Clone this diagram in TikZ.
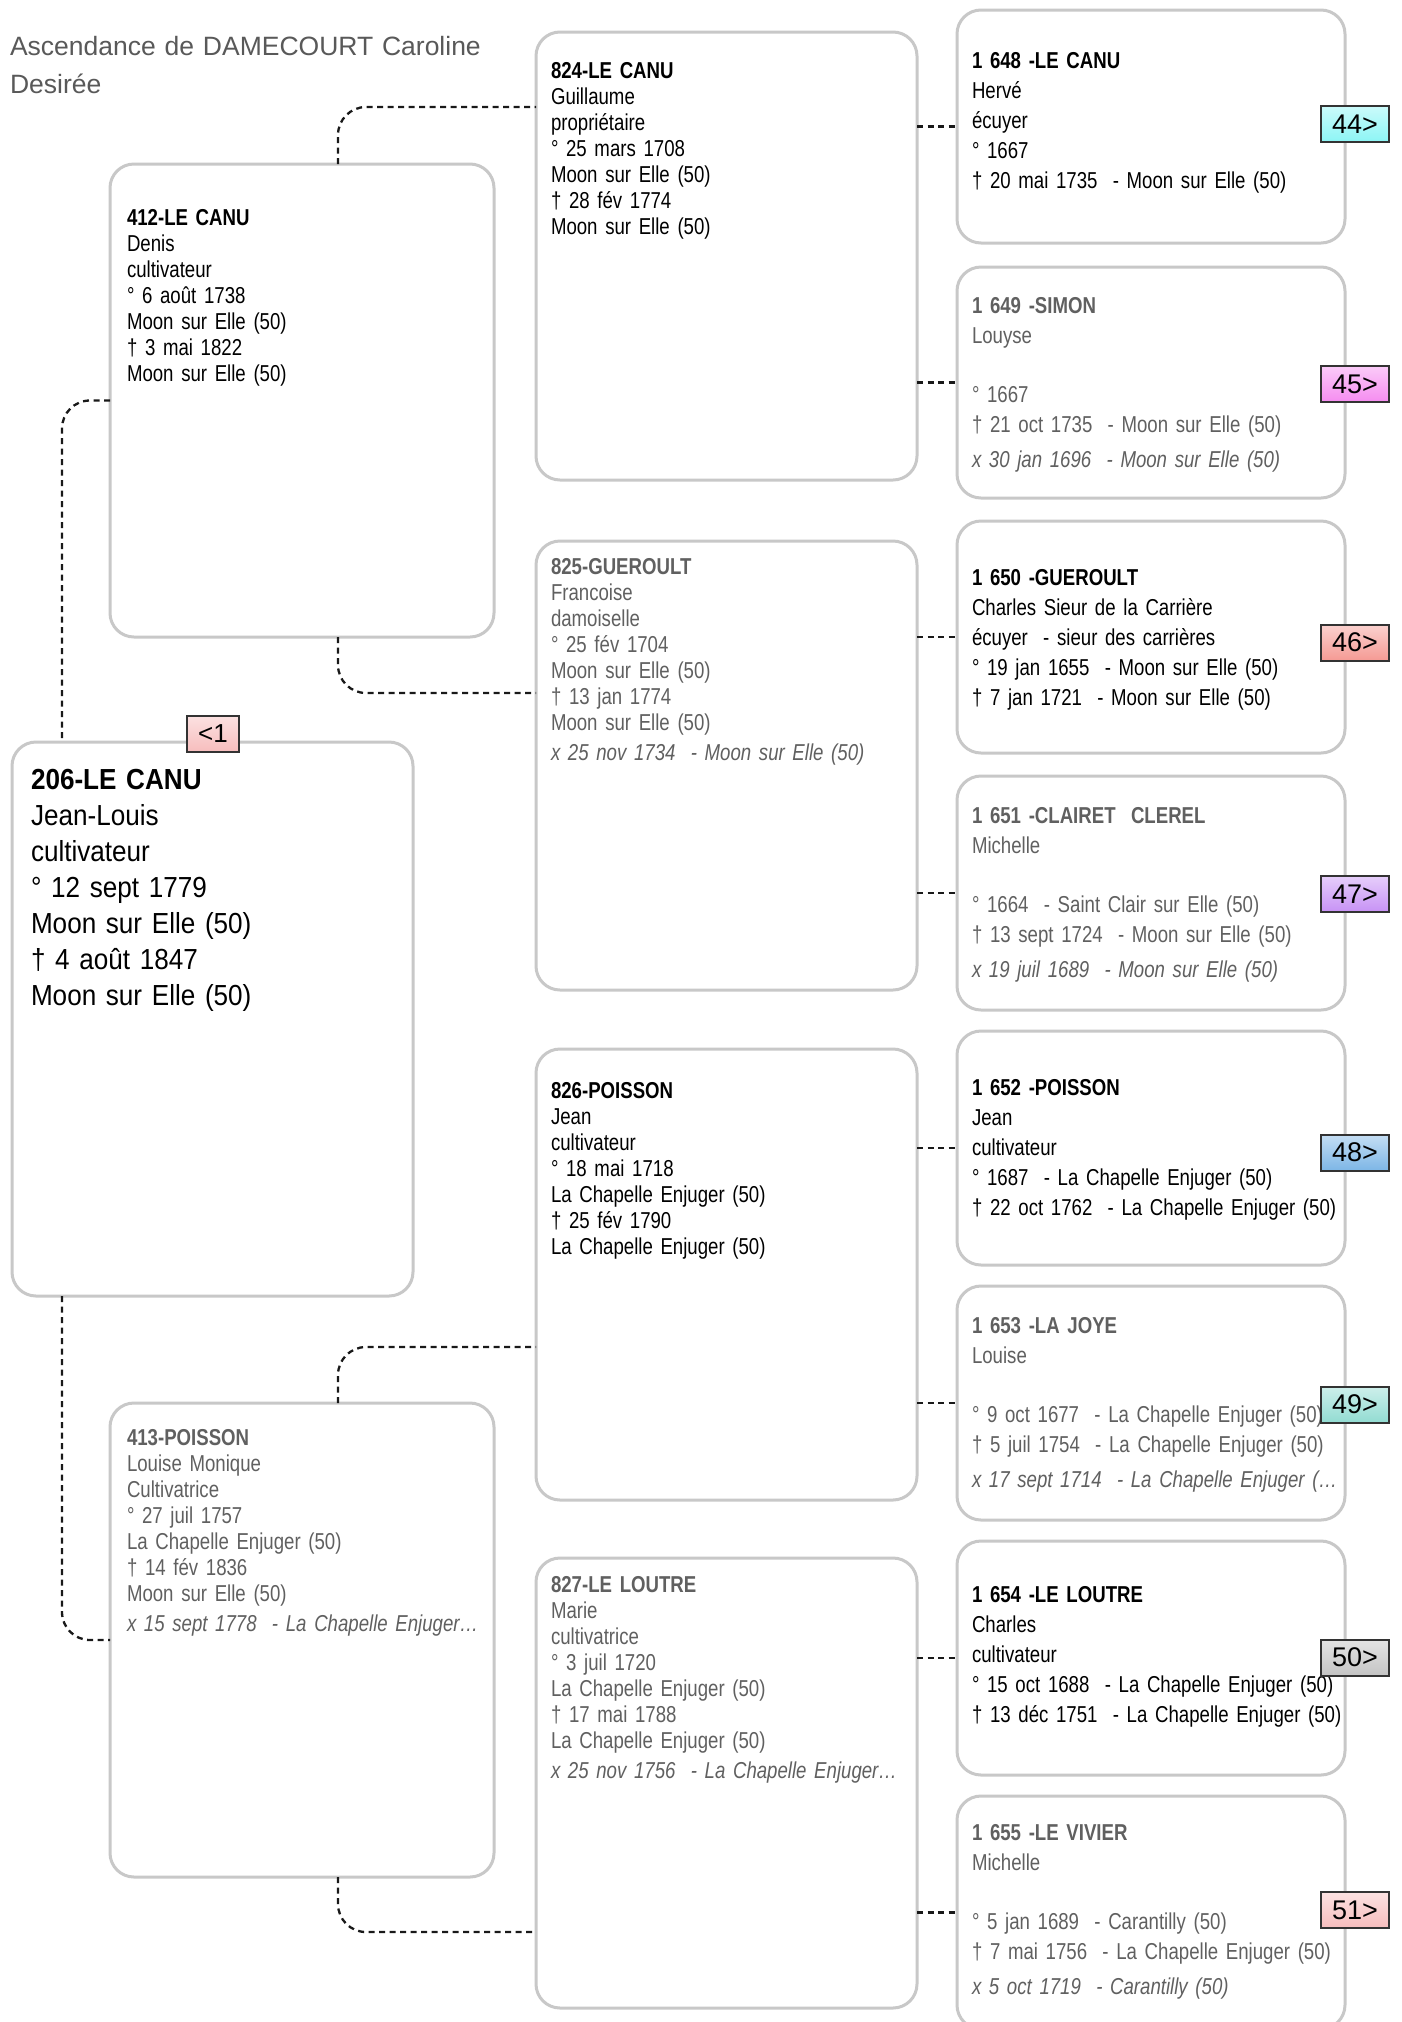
\documentclass[tikz,border=0pt]{standalone}
\usepackage{fontspec}
\setmainfont{Liberation Sans}
\newfontfamily\narrow[FakeStretch=0.81, WordSpace=0.85]{Liberation Sans}
\newfontfamily\semi[FakeStretch=0.9]{Liberation Sans}
\newfontfamily\titlefont[WordSpace=1.1]{Liberation Sans}
\usetikzlibrary{calc}
\definecolor{boxgray}{HTML}{C8C8C8}
\definecolor{txtgray}{HTML}{606060}
\definecolor{titlegray}{HTML}{595959}
\definecolor{bcyan}{HTML}{8CF5F5}
\definecolor{bmag}{HTML}{F58CF0}
\definecolor{bsalmon}{HTML}{F59A94}
\definecolor{bviolet}{HTML}{C792F5}
\definecolor{bblue}{HTML}{7DB6E6}
\definecolor{bteal}{HTML}{92DCD2}
\definecolor{bgray}{HTML}{C4C4C4}
\definecolor{bpink}{HTML}{F7BDBD}
\tikzset{
  box/.style={draw=boxgray, line width=3pt, rounded corners=24pt, fill=white,
    anchor=north west, inner sep=0pt, outer sep=0pt},
  midbox/.style={box, minimum width=381pt, minimum height=449pt},
  rbox/.style={box, minimum width=388pt, minimum height=233pt},
  lbox/.style={box, minimum width=384pt, minimum height=473pt},
  conn/.style={draw=black!90, line width=2.3pt, dash pattern=on 6pt off 4.5pt,
    rounded corners=28pt},
  txt/.style={anchor=base west, align=left, text width=380pt, inner sep=0pt, outer sep=0pt},
  txtM/.style={txt, font=\narrow\fontsize{23}{26}\selectfont},
  txtR/.style={txt, font=\narrow\fontsize{23}{30}\selectfont},
  txtB/.style={txt, font=\semi\fontsize{29}{36}\selectfont},
  badge/.style={draw=black!80, line width=2pt, minimum width=68pt, minimum height=36pt,
    inner sep=0pt, font=\fontsize{27}{27}\selectfont, top color=white!55!#1, bottom color=#1},
}
\begin{document}
\begin{tikzpicture}[x=1pt,y=-1pt]
\useasboundingbox (0,0) rectangle (1401,2022);
\clip (0,0) rectangle (1401,2022);
\fill[white] (0,0) rectangle (1401,2022);

% title
\node[txt, text=titlegray, text width=520pt,
  font=\titlefont\fontsize{26.5}{38}\selectfont] (title) at (10,55)
  {Ascendance de DAMECOURT Caroline\\Desirée};

% boxes
\node[box, minimum width=401pt, minimum height=554pt] (b206) at (12,742) {};
\node[lbox] (b412) at (110,164) {};
\node[lbox, minimum height=474pt] (b413) at (110,1403) {};
\node[midbox, minimum height=448pt] (b824) at (536,32) {};
\node[midbox] (b825) at (536,541) {};
\node[midbox, minimum height=451pt] (b826) at (536,1049) {};
\node[midbox, minimum height=450pt] (b827) at (536,1558) {};
\node[rbox] (b1648) at (957,10) {};
\node[rbox, minimum height=231pt] (b1649) at (957,267) {};
\node[rbox, minimum height=232pt] (b1650) at (957,521) {};
\node[rbox, minimum height=234pt] (b1651) at (957,776) {};
\node[rbox, minimum height=234pt] (b1652) at (957,1031) {};
\node[rbox, minimum height=234pt] (b1653) at (957,1286) {};
\node[rbox, minimum height=234pt] (b1654) at (957,1541) {};
\node[rbox] (b1655) at (957,1796) {};

% connectors
\coordinate (lx) at (62,0);
\draw[conn] (b412.west) -| (lx |- b206.north);
\draw[conn] (lx |- b206.south) |- (b413.west);
\coordinate (j1) at (338,107);
\coordinate (j2) at (338,693);
\coordinate (j3) at (338,1347);
\coordinate (j4) at (338,1932);
\draw[conn] (b412.north -| j1) |- (b824.west |- j1);
\draw[conn] (b412.south -| j2) |- (b825.west |- j2);
\draw[conn] (b413.north -| j3) |- (b826.west |- j3);
\draw[conn] (b413.south -| j4) |- (b827.west |- j4);
\draw[conn] (b824.east |- b1648.west) -- (b1648.west);
\draw[conn] (b824.east |- b1649.west) -- (b1649.west);
\draw[conn] (b825.east |- b1650.west) -- (b1650.west);
\draw[conn] (b825.east |- b1651.west) -- (b1651.west);
\draw[conn] (b826.east |- b1652.west) -- (b1652.west);
\draw[conn] (b826.east |- b1653.west) -- (b1653.west);
\draw[conn] (b827.east |- b1654.west) -- (b1654.west);
\draw[conn] (b827.east |- b1655.west) -- (b1655.west);

% texts
\node[txtB] (t206) at (31,789) {\textbf{206-LE CANU}\\Jean-Louis\\cultivateur\\° 12 sept 1779\\Moon sur Elle (50)\\† 4 août 1847\\Moon sur Elle (50)};
\node[txtM] (t412) at (127,225) {\textbf{412-LE CANU}\\Denis\\cultivateur\\° 6 août 1738\\Moon sur Elle (50)\\† 3 mai 1822\\Moon sur Elle (50)};
\node[txtM, text=txtgray] (t413) at (127,1445) {\textbf{413-POISSON}\\Louise Monique\\Cultivatrice\\° 27 juil 1757\\La Chapelle Enjuger (50)\\† 14 fév 1836\\Moon sur Elle (50)\\[4pt]\textit{x 15 sept 1778~ - La Chapelle Enjuger…}};
\node[txtM] (t824) at (551,78) {\textbf{824-LE CANU}\\Guillaume\\propriétaire\\° 25 mars 1708\\Moon sur Elle (50)\\† 28 fév 1774\\Moon sur Elle (50)};
\node[txtM, text=txtgray] (t825) at (551,574) {\textbf{825-GUEROULT}\\Francoise\\damoiselle\\° 25 fév 1704\\Moon sur Elle (50)\\† 13 jan 1774\\Moon sur Elle (50)\\[4pt]\textit{x 25 nov 1734~ - Moon sur Elle (50)}};
\node[txtM] (t826) at (551,1098) {\textbf{826-POISSON}\\Jean\\cultivateur\\° 18 mai 1718\\La Chapelle Enjuger (50)\\† 25 fév 1790\\La Chapelle Enjuger (50)};
\node[txtM, text=txtgray] (t827) at (551,1592) {\textbf{827-LE LOUTRE}\\Marie\\cultivatrice\\° 3 juil 1720\\La Chapelle Enjuger (50)\\† 17 mai 1788\\La Chapelle Enjuger (50)\\[4pt]\textit{x 25 nov 1756~ - La Chapelle Enjuger…}};

\node[txtR] (t1648) at (972,68) {\textbf{1 648 -LE CANU}\\Hervé\\écuyer\\° 1667\\† 20 mai 1735~ - Moon sur Elle (50)};
\node[txtR, text=txtgray] (t1649) at (972,313) {\textbf{1 649 -SIMON}\\Louyse\\[29pt]° 1667\\† 21 oct 1735~ - Moon sur Elle (50)\\[5pt]\textit{x 30 jan 1696~ - Moon sur Elle (50)}};
\node[txtR] (t1650) at (972,585) {\textbf{1 650 -GUEROULT}\\Charles Sieur de la Carrière\\écuyer~ - sieur des carrières\\° 19 jan 1655~ - Moon sur Elle (50)\\† 7 jan 1721~ - Moon sur Elle (50)};
\node[txtR, text=txtgray] (t1651) at (972,823) {\textbf{1 651 -CLAIRET~ CLEREL}\\Michelle\\[29pt]° 1664~ - Saint Clair sur Elle (50)\\† 13 sept 1724~ - Moon sur Elle (50)\\[5pt]\textit{x 19 juil 1689~ - Moon sur Elle (50)}};
\node[txtR] (t1652) at (972,1095) {\textbf{1 652 -POISSON}\\Jean\\cultivateur\\° 1687~ - La Chapelle Enjuger (50)\\† 22 oct 1762~ - La Chapelle Enjuger (50)};
\node[txtR, text=txtgray] (t1653) at (972,1333) {\textbf{1 653 -LA JOYE}\\Louise\\[29pt]° 9 oct 1677~ - La Chapelle Enjuger (50)\\† 5 juil 1754~ - La Chapelle Enjuger (50)\\[5pt]\textit{x 17 sept 1714~ - La Chapelle Enjuger (…}};
\node[txtR] (t1654) at (972,1602) {\textbf{1 654 -LE LOUTRE}\\Charles\\cultivateur\\° 15 oct 1688~ - La Chapelle Enjuger (50)\\† 13 déc 1751~ - La Chapelle Enjuger (50)};
\node[txtR, text=txtgray] (t1655) at (972,1840) {\textbf{1 655 -LE VIVIER}\\Michelle\\[29pt]° 5 jan 1689~ - Carantilly (50)\\† 7 mai 1756~ - La Chapelle Enjuger (50)\\[5pt]\textit{x 5 oct 1719~ - Carantilly (50)}};

% badges
\node[badge=bpink, minimum width=52pt, minimum height=36pt, font=\fontsize{26}{26}\selectfont] (k1) at (213,734) {<1};
\node[badge=bcyan] (k44) at (1355,124) {44>};
\node[badge=bmag] (k45) at (1355,384) {45>};
\node[badge=bsalmon] (k46) at (1355,642.5) {46>};
\node[badge=bviolet] (k47) at (1355,894) {47>};
\node[badge=bblue] (k48) at (1355,1152.5) {48>};
\node[badge=bteal] (k49) at (1355,1404.5) {49>};
\node[badge=bgray] (k50) at (1355,1657.5) {50>};
\node[badge=bpink] (k51) at (1355,1910) {51>};
\end{tikzpicture}
\end{document}
